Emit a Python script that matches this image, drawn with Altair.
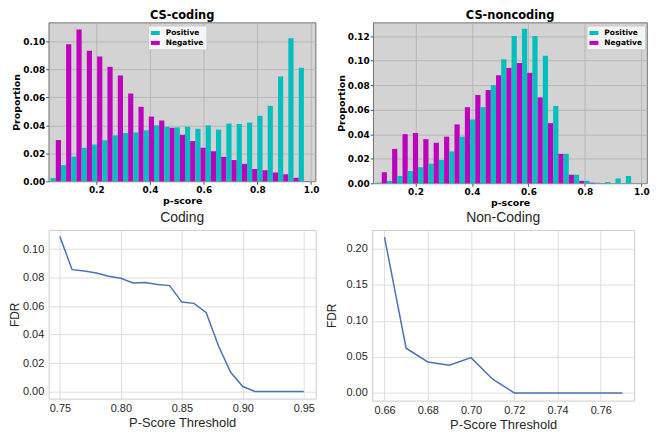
import altair as alt
import pandas as pd

# ---------------- data ----------------
# CS-coding histogram (25 bins)
coding_bin_start = 0.0298
coding_bin_width = 0.0385
coding_pos = [0.0023, 0.0116, 0.0177, 0.0240, 0.0263, 0.0293, 0.0329, 0.0345, 0.0349, 0.0365,
              0.0400, 0.0390, 0.0386, 0.0390, 0.0376, 0.0400, 0.0370, 0.0413, 0.0410, 0.0420,
              0.0469, 0.0540, 0.0750, 0.1023, 0.0812]
coding_neg = [0.0295, 0.0980, 0.1086, 0.0934, 0.0893, 0.0819, 0.0757, 0.0628, 0.0533, 0.0463,
              0.0435, 0.0383, 0.0333, 0.0288, 0.0240, 0.0215, 0.0175, 0.0152, 0.0125, 0.0088,
              0.0079, 0.0063, 0.0050, 0.0025, 0.0002]

# CS-noncoding histogram (25 bins)
noncoding_bin_start = 0.062
noncoding_bin_width = 0.0368
noncoding_pos = [0.0005, 0.002, 0.006, 0.010, 0.013, 0.016, 0.019, 0.026, 0.038, 0.052,
                 0.062, 0.080, 0.101, 0.120, 0.126, 0.120, 0.104, 0.063, 0.024, 0.007,
                 0.002, 0.0005, 0.001, 0.004, 0.006]
noncoding_neg = [0.009, 0.028, 0.040, 0.041, 0.036, 0.033, 0.038, 0.048, 0.062, 0.072,
                 0.076, 0.088, 0.094, 0.098, 0.090, 0.070, 0.049, 0.024, 0.007, 0.002,
                 0.0005, 0.0, 0.0, 0.0, 0.0]

series_names = ["Positive", "Negative"]
series_colors = ["#00bfbf", "#bf00bf"]

hist_xticks = [0.2, 0.4, 0.6, 0.8, 1.0]
coding_hist_yticks = [0.00, 0.02, 0.04, 0.06, 0.08, 0.10]
noncoding_hist_yticks = [0.00, 0.02, 0.04, 0.06, 0.08, 0.10, 0.12]

# FDR curves
coding_thr = [0.75, 0.76, 0.77, 0.78, 0.79, 0.80, 0.81, 0.82, 0.83, 0.84, 0.85,
              0.86, 0.87, 0.88, 0.89, 0.90, 0.91, 0.92, 0.93, 0.94, 0.95]
coding_fdr = [0.1088, 0.0856, 0.0847, 0.0832, 0.0810, 0.0795, 0.0763, 0.0765, 0.0751, 0.0744, 0.0628,
              0.0619, 0.0553, 0.0321, 0.0135, 0.0035, 0.0, 0.0, 0.0, 0.0, 0.0]
coding_xticks = [0.75, 0.80, 0.85, 0.90, 0.95]
coding_yticks = [0.00, 0.02, 0.04, 0.06, 0.08, 0.10]

noncoding_thr = [0.66, 0.67, 0.68, 0.69, 0.70, 0.71, 0.72, 0.73, 0.74, 0.75, 0.76, 0.77]
noncoding_fdr = [0.216, 0.062, 0.043, 0.0385, 0.049, 0.019, 0.0, 0.0, 0.0, 0.0, 0.0, 0.0]
noncoding_xticks = [0.66, 0.68, 0.70, 0.72, 0.74, 0.76]
noncoding_yticks = [0.00, 0.05, 0.10, 0.15, 0.20]


def hist_df(start, width, pos, neg):
    rows = []
    for i, (p, n) in enumerate(zip(pos, neg)):
        lo = start + i * width
        rows.append(dict(lo=lo, hi=lo + width / 2, value=p, series=series_names[0]))
        rows.append(dict(lo=lo + width / 2, hi=lo + width, value=n, series=series_names[1]))
    return pd.DataFrame(rows)


HFONT = "DejaVu Sans"
LFONT = "Liberation Sans"


def hist(df, title, xdom, ydom, yticks, w, h, legx, legy):
    common = dict(labelFont=HFONT, labelFontWeight="bold", labelFontSize=9, labelColor="black",
                  titleFont=HFONT, titleFontWeight="bold", titleFontSize=9.5, titleColor="black",
                  titlePadding=1, labelPadding=1, tickSize=3, tickColor="#555555",
                  domain=False, gridColor="#b0b0b0", gridWidth=0.8,
                  labelFlush=False, labelOverlap=False)
    xax = alt.Axis(values=hist_xticks, format=".1f", title="p-score", **common)
    yax = alt.Axis(values=yticks, format=".2f", title="Proportion", **common)
    leg = alt.Legend(orient="none", legendX=legx, legendY=legy, title=None,
                     fillColor="rgba(255,255,255,0.8)", strokeColor="#cccccc", cornerRadius=2,
                     padding=3, rowPadding=2, labelFont=HFONT, labelFontWeight="bold",
                     labelFontSize=7.5, labelColor="black", labelOffset=6,
                     symbolType="M-1,-0.45L1,-0.45L1,0.45L-1,0.45Z", symbolSize=81,
                     symbolStrokeWidth=0)
    return alt.Chart(df).mark_rect().encode(
        x=alt.X("lo:Q", scale=alt.Scale(domain=xdom, nice=False, zero=False), axis=xax),
        x2="hi:Q",
        y=alt.Y("value:Q", scale=alt.Scale(domain=ydom, nice=False), axis=yax),
        y2=alt.datum(0),
        color=alt.Color("series:N", scale=alt.Scale(domain=series_names, range=series_colors),
                        legend=leg),
    ).properties(
        width=w, height=h,
        title=alt.TitleParams(title, font=HFONT, fontWeight="bold", fontSize=11.5, offset=1,
                              anchor="middle", color="black"),
        view=alt.ViewBackground(fill="#d3d3d3", stroke="#555555", strokeWidth=0.8),
    )


def line(thr, fdr, title, xticks, yticks, xdom, ydom, w, h, ytp):
    df = pd.DataFrame({"thr": thr, "fdr": fdr})
    common = dict(labelFont=LFONT, labelFontSize=11, labelColor="#262626",
                  titleFont=LFONT, titleFontWeight="normal", titleColor="#262626",
                  domain=False, ticks=False, tickSize=0, gridColor="#dedede", gridWidth=1,
                  labelFlush=False, labelOverlap=False, format=".2f")
    xax = alt.Axis(values=xticks, title="P-Score Threshold", titleFontSize=13,
                   labelPadding=4, titlePadding=3, **common)
    yax = alt.Axis(values=yticks, title="FDR", titleFontSize=12,
                   labelPadding=5, titlePadding=ytp, **common)
    return alt.Chart(df).mark_line(color="#4c72b0", strokeWidth=1.5).encode(
        x=alt.X("thr:Q", scale=alt.Scale(domain=xdom, nice=False, zero=False), axis=xax),
        y=alt.Y("fdr:Q", scale=alt.Scale(domain=ydom, nice=False, zero=False), axis=yax),
    ).properties(
        width=w, height=h,
        title=alt.TitleParams(title, font=LFONT, fontWeight="normal", fontSize=14, offset=5,
                              anchor="middle", color="#262626"),
        view=alt.ViewBackground(fill="white", stroke="#cccccc", strokeWidth=1),
    )


h1 = hist(hist_df(coding_bin_start, coding_bin_width, coding_pos, coding_neg),
          "CS-coding", [0.0226, 1.0167], [0, 0.1136], coding_hist_yticks, 269, 160, 100, 3)
h2 = hist(hist_df(noncoding_bin_start, noncoding_bin_width, noncoding_pos, noncoding_neg),
          "CS-noncoding", [0.050, 1.020], [0, 0.131], noncoding_hist_yticks, 276, 162, 215, 3)

l1 = line(coding_thr, coding_fdr, "Coding", coding_xticks, coding_yticks,
          [0.7408, 0.9597], [-0.005, 0.1135], 269, 170, 1)
l2 = line(noncoding_thr, noncoding_fdr, "Non-Coding", noncoding_xticks, noncoding_yticks,
          [0.6543, 0.7754], [-0.0106, 0.226], 264, 172, 8)

row1 = alt.hconcat(h1, h2, spacing=58, bounds="flush").resolve_scale(color="independent")
row2 = alt.hconcat(l1, l2, spacing=57, bounds="flush")

chart = alt.vconcat(row1, row2, spacing=3).properties(padding=0, background="white")

chart.save("out.html", embed_options={"renderer": "svg", "actions": False})
